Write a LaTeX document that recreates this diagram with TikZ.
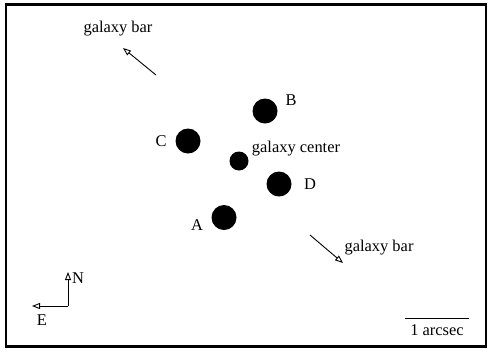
\documentclass[tikz,border=0pt]{standalone}
\usepackage{fontspec}
\setmainfont{Liberation Serif}
\usetikzlibrary{arrows.meta}
\begin{document}
\begin{tikzpicture}[x=1bp,y=-1bp,
  lbl/.style={inner sep=0pt,font=\fontsize{16.5}{18}\selectfont},
  dot/.style={circle,fill=black,inner sep=0pt,minimum size=#1},
  openarrow/.style={line width=0.9bp,-{Triangle[open,length=8bp,width=6bp]}},
  thin/.style={line width=0.9bp}]
\useasboundingbox (0,0) rectangle (489,351);
\draw[line width=2.2bp] (6,4.5) rectangle (486,346.5);
% spots
\node[dot=25bp] (B) at (265,111) {};
\node[dot=25bp] (C) at (188,141) {};
\node[dot=19bp] (G) at (239,161) {};
\node[dot=25bp] (D) at (279,184) {};
\node[dot=25bp] (A) at (224,217.5) {};
\node[lbl] (Bl) at (291,100) {B};
\node[lbl] (Cl) at (161,141) {C};
\node[lbl] (Gl) at (296,149) {galaxy center};
\node[lbl] (Dl) at (310,184) {D};
\node[lbl] (Al) at (197,225) {A};
% galaxy bar arrows
\coordinate (t1) at (156,75);
\coordinate (t2) at (123,48);
\draw[openarrow] (t1) -- (t2);
\node[lbl] (tb) at (118,29) {galaxy bar};
\coordinate (b1) at (310,235);
\coordinate (b2) at (343,263);
\draw[openarrow] (b1) -- (b2);
\node[lbl] (bb) at (379,248) {galaxy bar};
% compass
\coordinate (o) at (68,306);
\coordinate (n) at (68,272);
\coordinate (e) at (32,306);
\draw[openarrow] (o) -- (n);
\draw[openarrow] (o) -- (e);
\node[lbl] (N) at (78,278) {N};
\node[lbl] (E) at (42,320) {E};
% scale bar
\coordinate (s1) at (405,318);
\coordinate (s2) at (469,318);
\draw[thin] (s1) -- (s2);
\node[lbl] (sl) at (437,330) {1 arcsec};
\end{tikzpicture}
\end{document}
